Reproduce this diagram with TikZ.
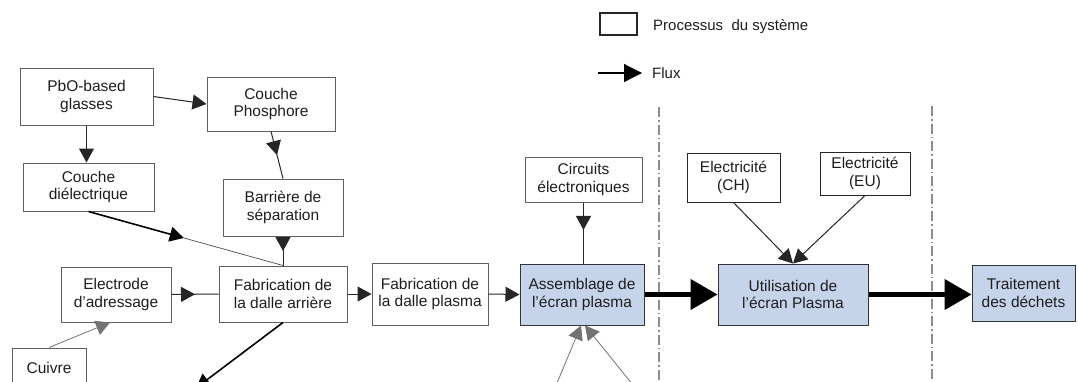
\documentclass[tikz,border=0pt]{standalone}
\usepackage{fontspec}
\setmainfont{Liberation Sans}
\usetikzlibrary{arrows.meta,decorations.markings,calc}
\definecolor{boxline}{RGB}{95,95,95}
\definecolor{bluefill}{RGB}{198,212,235}
\definecolor{txt}{RGB}{30,30,30}
\tikzset{
  box/.style={draw=boxline, line width=1pt, fill=white, align=center, inner sep=0pt,
    font=\fontsize{15.5}{17.5}\selectfont, text=txt},
  bluebox/.style={box, draw=black!80, fill=bluefill},
  flow/.style={draw=black!85, line width=1pt, -{Triangle[length=14pt,width=15pt]}},
  lightflow/.style={draw=black!55, line width=0.8pt, -{Triangle[length=14pt,width=15pt]}},
  midflow/.style={draw=black!85, line width=1pt, postaction={decorate},
    decoration={markings, mark=at position #1 with {\arrow{Triangle[length=14pt,width=15pt]}}}},
  bigflow/.style={draw=black, line width=4.5pt, -{Triangle[length=27pt,width=30pt]}},
  sep/.style={draw=black!45, line width=1.2pt, dash pattern=on 10pt off 3pt on 1.5pt off 3pt},
  legtext/.style={anchor=west, inner sep=0pt, font=\fontsize{15}{17}\selectfont, text=txt}
}
\begin{document}
\begin{tikzpicture}[x=1pt,y=-1pt]
\useasboundingbox (0,0) rectangle (1078,381);
\clip (0,0) rectangle (1078,381);
\fill[white] (0,0) rectangle (1078,381);

% separators
\draw[sep] (659,107) -- (659,390);
\draw[sep] (932,106) -- (932,390);

% legend
\node[draw=black!85, line width=1.5pt, minimum width=37pt, minimum height=22pt, inner sep=0pt] (legbox) at (618.5,24) {};
\node[legtext] (legproc) at (653,27) {Processus \ du système};
\coordinate (legA) at (598,73);
\coordinate (legB) at (642,73);
\draw[draw=black, line width=1.2pt, -{Triangle[length=18pt,width=18pt]}] (legA) -- (legB);
\node[legtext] (legflux) at (652,73) {Flux};

% boxes
\node[box, minimum width=133pt, minimum height=57pt] (pbo) at (86.5,96.5) {PbO-based\\glasses};
\node[box, minimum width=128pt, minimum height=54pt] (phos) at (271,104) {Couche\\Phosphore};
\node[box, minimum width=131pt, minimum height=48pt] (diel) at (88.5,187) {Couche\\diélectrique};
\node[box, minimum width=120pt, minimum height=57pt] (barr) at (283,207.5) {Barrière de\\séparation};
\node[box, minimum width=110pt, minimum height=55pt] (elec) at (116,294.5) {Electrode\\d’adressage};
\node[box, minimum width=128pt, minimum height=56pt] (fabar) at (283,294) {Fabrication de\\la dalle arrière};
\node[box, minimum width=74pt, minimum height=40pt] (cuiv) at (49,368) {Cuivre};
\node[box, minimum width=116pt, minimum height=62pt] (fabpl) at (430,294) {Fabrication de\\la dalle plasma};
\node[bluebox, minimum width=124pt, minimum height=61pt] (asm) at (582,294.5) {Assemblage de\\l’écran plasma};
\node[box, minimum width=117pt, minimum height=45pt] (circ) at (583.5,179.5) {Circuits\\électroniques};
\node[box, draw=black!85, minimum width=93pt, minimum height=49pt] (ch) at (733.5,177.5) {Electricité\\(CH)};
\node[box, draw=black!85, minimum width=90pt, minimum height=43pt] (eu) at (865,173.5) {Electricité\\(EU)};
\node[bluebox, minimum width=150pt, minimum height=61pt] (util) at (793,294.5) {Utilisation de\\l’écran Plasma};
\node[bluebox, minimum width=103pt, minimum height=56pt] (trait) at (1023.5,293) {Traitement\\des déchets};

% connectors
\draw[flow] (pbo.east) -- (phos.west);
\draw[flow] (pbo.south) -- (pbo.south |- diel.north);
\draw[midflow=0.5] (phos.south) -- (barr.north);
\draw[midflow=0.5] (barr.south) -- (fabar.north);
\coordinate (dm) at ($(diel.south)!0.49!(fabar.north)$);
\draw[draw=black, line width=1.6pt, -{Triangle[length=14pt,width=15pt]}] (diel.south) -- (dm);
\draw[draw=black!70, line width=0.7pt] (dm) -- (fabar.north);
\draw[midflow=0.5] (elec.east) -- (fabar.west);
\draw[lightflow] (cuiv.north) -- ([xshift=-6pt]elec.south);
\coordinate (outA) at (196,388);
\draw[draw=black, line width=1.6pt, -{Triangle[length=14pt,width=15pt]}] (fabar.south) -- (outA);
\draw[flow] (fabar.east) -- (fabpl.west);
\draw[flow] (fabpl.east) -- (asm.west);
\draw[midflow=0.45] (circ.south) -- (circ.south |- asm.north);
\coordinate (inA) at (552,395);
\coordinate (inB) at (641,395);
\draw[lightflow] (inA) -- ([xshift=-1pt]asm.south);
\draw[lightflow] (inB) -- ([xshift=3pt]asm.south);
\draw[bigflow] (asm.east) -- (util.west);
\draw[bigflow] (util.east) -- (util.east -| trait.west);
\draw[flow] (ch.south) -- (util.north);
\draw[flow] (eu.south) -- (util.north);
\end{tikzpicture}
\end{document}
